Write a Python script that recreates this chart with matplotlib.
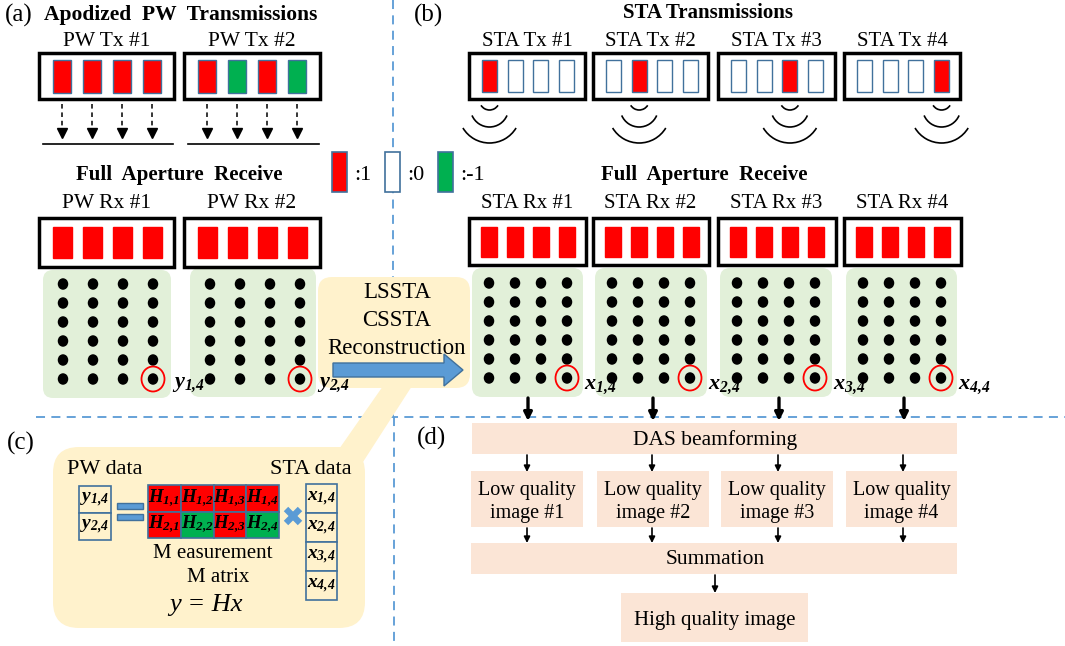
import matplotlib.pyplot as plt
from matplotlib.patches import Rectangle, FancyBboxPatch, Ellipse, Arc, Polygon, FancyArrow

plt.rcParams['font.family'] = 'Liberation Serif'
plt.rcParams['mathtext.fontset'] = 'custom'
plt.rcParams['mathtext.rm'] = 'Liberation Serif:bold:italic'
plt.rcParams['mathtext.it'] = 'Liberation Serif:bold:italic'
plt.rcParams['mathtext.bf'] = 'Liberation Serif:bold:italic'

# element weights: 1 -> red, 0 -> off, -1 -> green
pw_tx_codes = [[1, 1, 1, 1], [1, -1, 1, -1]]
sta_tx_codes = [[1, 0, 0, 0], [0, 1, 0, 0], [0, 0, 1, 0], [0, 0, 0, 1]]
pw_tx_titles = ['PW Tx #1', 'PW Tx #2']
pw_rx_titles = ['PW Rx #1', 'PW Rx #2']
sta_tx_titles = ['STA Tx #1', 'STA Tx #2', 'STA Tx #3', 'STA Tx #4']
sta_rx_titles = ['STA Rx #1', 'STA Rx #2', 'STA Rx #3', 'STA Rx #4']
pw_labels = [r'$y_{1{,}4}$', r'$y_{2{,}4}$']
sta_labels = [r'$x_{1{,}4}$', r'$x_{2{,}4}$', r'$x_{3{,}4}$', r'$x_{4{,}4}$']
legend_codes = [1, 0, -1]
legend_labels = [':1', ':0', ':-1']
recon_lines = ['LSSTA', 'CSSTA', 'Reconstruction']
lq_titles = ['Low quality\nimage #1', 'Low quality\nimage #2',
             'Low quality\nimage #3', 'Low quality\nimage #4']
n_rows = 6

RED = '#ff0000'
GREEN = '#00b050'
EDGE = '#41719c'
BLUE = '#5b9bd5'
PANEL = '#e2f0d9'
YELLOW = '#fff2cc'
PEACH = '#fbe5d6'
code_color = {1: RED, 0: 'white', -1: GREEN}

fig = plt.figure(figsize=(10.65, 6.46), dpi=100)
ax = fig.add_axes([0, 0, 1, 1])
ax.set_xlim(0, 1065)
ax.set_ylim(646, 0)
ax.axis('off')


def rect(x0, y0, x1, y1, **kw):
    ax.add_patch(Rectangle((x0, y0), x1 - x0, y1 - y0, **kw))


def rbox(x0, y0, x1, y1, r, color, z=1):
    ax.add_patch(FancyBboxPatch((x0, y0), x1 - x0, y1 - y0,
                                boxstyle=f'round,pad=0,rounding_size={r}',
                                fc=color, ec='none', zorder=z))


def txt(x, y, s, size, **kw):
    kw.setdefault('ha', 'center')
    kw.setdefault('va', 'center')
    ax.text(x, y, s, fontsize=size, **kw)


def array_box(x0, x1, y0, y1, centers, codes, ew, eh, edge=EDGE):
    rect(x0, y0, x1, y1, fc='white', ec='black', lw=2.5, zorder=2)
    yc = (y0 + y1) / 2
    for xc, c in zip(centers, codes):
        ec = RED if (edge == 'self' and c == 1) else EDGE
        rect(xc - ew / 2, yc - eh / 2, xc + ew / 2, yc + eh / 2,
             fc=code_color[c], ec=ec, lw=1.0, zorder=3)


def dot_panel(x0, x1, y0, y1, cols, rows, label, label_dy=5):
    rbox(x0, y0, x1, y1, 10, PANEL)
    for yy in rows:
        for xx in cols:
            ax.add_patch(Ellipse((xx, yy), 10.5, 11.5, fc='black', ec='none', zorder=3))
    ax.add_patch(Ellipse((cols[-1], rows[-1]), 23, 25, fc='none', ec=RED, lw=1.3, zorder=4))
    txt(x1 + 1, rows[-1] + label_dy, label, 16, ha='left')


# panel separators
dash = dict(color=BLUE, lw=1.3, dashes=(5, 3.5), zorder=0.5)
ax.plot([393, 393], [0, 417], **dash)
ax.plot([394, 394], [417, 646], **dash)
ax.plot([36, 1065], [417, 417], **dash)

# ---- (a) apodized plane-wave transmissions
txt(5, 15, '(a)', 18, ha='left')
txt(44, 15, 'Apodized  PW  Transmissions', 15.5, ha='left', fontweight='bold')
a_boxes = [(39, 174), (184, 320)]
for k, (x0, x1) in enumerate(a_boxes):
    centers = [x0 + 23 + 30 * i for i in range(4)]
    txt((x0 + x1) / 2, 42, pw_tx_titles[k], 15.5)
    array_box(x0, x1, 53, 99, centers, pw_tx_codes[k], 18, 33)
    for xc in centers:
        ax.plot([xc, xc], [104, 129], color='black', lw=1.1, dashes=(3, 2.5))
        ax.plot(xc, 133, marker='v', color='black', markersize=6.5)
    ax.plot([x0 + 4, x1 - 1], [144, 144], color='black', lw=1.2)

txt(179, 175, 'Full  Aperture  Receive', 15, fontweight='bold')
a_panels = [(43, 171, 270, 398), (190, 316, 268, 397)]
rows = [284 + 19 * r for r in range(n_rows)]
for k, (x0, x1) in enumerate(a_boxes):
    centers = [x0 + 23 + 30 * i for i in range(4)]
    txt((x0 + x1) / 2, 203, pw_rx_titles[k], 15.5)
    array_box(x0, x1, 218, 267, centers, [1, 1, 1, 1], 19, 31, edge='self')
    px0, px1, py0, py1 = a_panels[k]
    cols = [px0 + 20 + 30 * i for i in range(4)]
    dot_panel(px0, px1, py0, py1, cols, rows, pw_labels[k])

# code legend
legend_x = [332, 385, 438]
for lx, c, lab in zip(legend_x, legend_codes, legend_labels):
    rect(lx, 152, lx + 15, 192, fc=code_color[c], ec=EDGE, lw=1.2, zorder=3)
    txt(lx + 22, 175, lab, 16, ha='left')

# reconstruction callout
rbox(318, 277, 470, 388, 14, YELLOW)
ax.add_patch(Polygon([(383, 386), (412, 386), (363, 462), (330, 462)],
                     closed=True, fc=YELLOW, ec='none', zorder=1))
for i, line in enumerate(recon_lines):
    txt(397, 293 + 27.5 * i, line, 16.5, zorder=5)
ax.add_patch(FancyArrow(333, 370, 130, 0, width=14, head_width=32, head_length=19,
                        length_includes_head=True, fc=BLUE, ec=EDGE, lw=1, zorder=4))

# ---- (b) synthetic transmit aperture
txt(414, 15, '(b)', 18, ha='left')
txt(708, 13, 'STA Transmissions', 15, fontweight='bold')
b_boxes = [(469, 585), (593, 708), (718, 835), (844, 960)]
for k, (x0, x1) in enumerate(b_boxes):
    centers = [x0 + 20.5 + 25.7 * i for i in range(4)]
    txt((x0 + x1) / 2, 42, sta_tx_titles[k], 15)
    array_box(x0, x1, 53, 99, centers, sta_tx_codes[k], 15, 32)
    wx = centers[sta_tx_codes[k].index(1)]
    for cy, r, half in [(100, 10, 58), (108, 19, 67), (112, 31, 59)]:
        ax.add_patch(Arc((wx, cy), 2 * r, 2 * r, theta1=90 - half, theta2=90 + half,
                         color='black', lw=1.2))

txt(704, 175, 'Full  Aperture  Receive', 15, fontweight='bold')
b_panels = [(472, 583), (595, 707), (720, 832), (846, 957)]
rows_b = [283 + 19 * r for r in range(n_rows)]
for k, (x0, x1) in enumerate(b_boxes):
    centers = [x0 + 20 + 26 * i for i in range(4)]
    txt((x0 + x1) / 2, 203, sta_rx_titles[k], 15)
    array_box(x0, x1 + 1, 218, 265, centers, [1, 1, 1, 1], 16, 30, edge='self')
    px0, px1 = b_panels[k]
    cols = [px0 + 17 + 26 * i for i in range(4)]
    dot_panel(px0, px1, 268, 397, cols, rows_b, sta_labels[k], label_dy=9)

# ---- (c) measurement model
txt(7, 443, '(c)', 18, ha='left')
rbox(53, 447, 365, 628, 26, YELLOW)
txt(105, 470, 'PW data', 16)
txt(311, 470, 'STA data', 16)
for i, lab in enumerate(pw_labels):
    rect(79, 486 + 27 * i, 111, 513 + 27 * i, fc=YELLOW, ec=EDGE, lw=1.2, zorder=2)
    txt(95, 499.5 + 27 * i, lab, 14, zorder=3)
for yy in (503, 514):
    rect(117, yy, 143, yy + 6, fc=BLUE, ec=EDGE, lw=1, zorder=2)
cw, ch = 32.75, 26.5
for i, row in enumerate(pw_tx_codes):
    for j, c in enumerate(row):
        x0 = 148 + cw * j
        y0 = 485 + ch * i
        rect(x0, y0, x0 + cw, y0 + ch, fc=code_color[c], ec=EDGE, lw=1.2, zorder=2)
        txt(x0 + cw / 2, y0 + ch / 2, rf'$H_{{{i + 1}{{,}}{j + 1}}}$', 13.5, zorder=3)
ax.plot([286, 300], [509, 523], color=BLUE, lw=4.5, solid_capstyle='butt', zorder=3)
ax.plot([286, 300], [523, 509], color=BLUE, lw=4.5, solid_capstyle='butt', zorder=3)
for i, lab in enumerate(sta_labels):
    rect(306, 484 + 29 * i, 337, 513 + 29 * i, fc=YELLOW, ec=EDGE, lw=1.2, zorder=2)
    txt(321.5, 498.5 + 29 * i, lab, 14, zorder=3)
txt(213, 553, 'M easurement', 15)
txt(218, 578, 'M atrix', 15)
txt(206, 605, 'y = Hx', 19, fontstyle='italic')

# ---- (d) beamforming pipeline
txt(417, 438, '(d)', 18, ha='left')
top_arrow_x = [528, 653, 779, 904]
for xx in top_arrow_x:
    ax.annotate('', xy=(xx, 421), xytext=(xx, 398),
                arrowprops=dict(arrowstyle='-|>', lw=2.4, color='black',
                                mutation_scale=12, shrinkA=0, shrinkB=0))
rect(472, 423, 957, 454, fc=PEACH, ec='none')
txt(715, 440, 'DAS beamforming', 15.5)
lq_boxes = [(471, 583), (597, 709), (721, 833), (846, 957)]
for k, (x0, x1) in enumerate(lq_boxes):
    xc = top_arrow_x[k]
    rect(x0, 471, x1, 527, fc=PEACH, ec='none')
    txt((x0 + x1) / 2, 502, lq_titles[k], 14.5, linespacing=1.35)
    for ya, yb in [(455, 472), (528, 543)]:
        ax.annotate('', xy=(xc - 1, yb), xytext=(xc - 1, ya),
                    arrowprops=dict(arrowstyle='-|>', lw=1.2, color='black',
                                    mutation_scale=9, shrinkA=0, shrinkB=0))
rect(471, 543, 957, 574, fc=PEACH, ec='none')
txt(715, 560, 'Summation', 15.5)
ax.annotate('', xy=(715, 593), xytext=(715, 575),
            arrowprops=dict(arrowstyle='-|>', lw=1.2, color='black',
                            mutation_scale=9, shrinkA=0, shrinkB=0))
rect(621, 593, 808, 642, fc=PEACH, ec='none')
txt(715, 620, 'High quality image', 15)

fig.savefig('out.png', dpi=100)
